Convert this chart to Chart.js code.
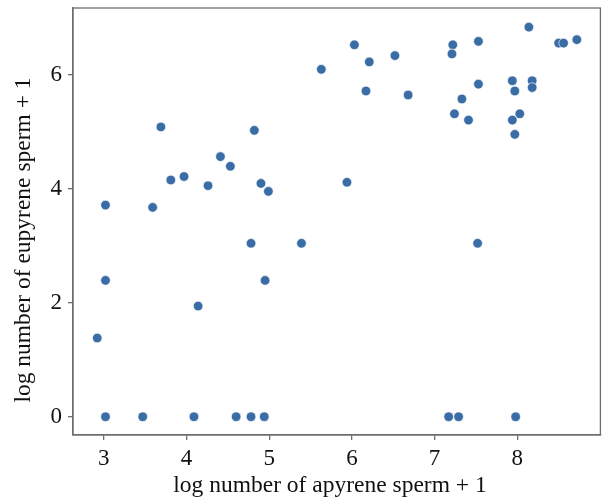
<!DOCTYPE html>
<html>
<head>
<meta charset="utf-8">
<script src="https://cdn.jsdelivr.net/npm/chart.js@4"></script>
<style>
html,body{margin:0;padding:0;background:#fff;}
#wrap{width:606px;height:499px;}
</style>
</head>
<body>
<div id="wrap"><canvas id="c" width="606" height="499"></canvas></div>
<script>
const apyrene = [6.03,5.63,3.69,4.82,4.41,4.53,3.81,3.97,4.26,4.90,4.99,5.94,3.02,3.59,4.78,5.39,
  6.21,6.17,6.52,6.68,7.22,7.21,7.53,7.53,7.33,7.24,7.41,7.94,7.97,8.18,8.18,8.03,7.94,7.97,8.14,8.50,8.56,8.72,7.52,
  3.02,4.95,4.14,2.92,3.02,3.47,4.09,4.60,4.78,4.94,7.17,7.29,7.98];
const eupyrene = [6.52,6.09,5.08,5.02,4.56,4.39,4.15,4.21,4.05,4.09,3.95,4.11,3.71,3.67,3.04,3.04,
  6.22,5.71,6.33,5.64,6.52,6.36,6.58,5.83,5.57,5.31,5.20,5.89,5.71,5.89,5.77,5.31,5.20,4.95,6.83,6.55,6.55,6.61,3.04,
  2.39,2.39,1.94,1.38,0,0,0,0,0,0,0,0,0];
const xTicks = [3,4,5,6,7,8];
const yTicks = [0,2,4,6];
const xLabel = 'log number of apyrene sperm + 1';
const yLabel = 'log number of eupyrene sperm + 1';

const points = apyrene.map((x,i)=>({x:x,y:eupyrene[i]}));
const fam = '"Liberation Serif", "DejaVu Serif", serif';
const frame = {
  id:'frame',
  afterDraw(chart){
    const a = chart.chartArea, ctx = chart.ctx;
    ctx.save();
    ctx.strokeStyle = '#6e6e6e';
    ctx.lineWidth = 1.3;
    ctx.strokeRect(a.left, a.top, a.right-a.left, a.bottom-a.top);
    // axis titles
    ctx.fillStyle = '#111';
    ctx.font = '23.5px ' + fam;
    ctx.textAlign = 'center';
    ctx.textBaseline = 'alphabetic';
    ctx.fillText(xLabel, 330, 491.5);
    ctx.translate(30, 240);
    ctx.rotate(-Math.PI/2);
    ctx.fillText(yLabel, 0, 0);
    ctx.restore();
  }
};
const tickFont = {family:fam, size:23};
new Chart(document.getElementById('c'), {
  type:'scatter',
  data:{datasets:[{data:points, backgroundColor:'#3a6ca6', borderColor:'rgba(255,255,255,0.8)', borderWidth:0.8, pointRadius:4.8, pointHoverRadius:4.8}]},
  options:{
    responsive:false, animation:false,
    layout:{padding:{top:8,right:3,left:0,bottom:0}},
    plugins:{legend:{display:false}, tooltip:{enabled:false}},
    scales:{
      x:{type:'linear', min:2.627, max:9.005,
        afterBuildTicks(ax){ax.ticks = xTicks.map(v=>({value:v}));},
        afterFit(ax){ax.height = 64; ax.paddingLeft = 0; ax.paddingRight = 0;},
        grid:{display:true, drawOnChartArea:false, drawTicks:true, tickLength:5, color:'#6e6e6e', lineWidth:1.3},
        border:{display:true, color:'#6e6e6e', width:1.3},
        ticks:{color:'#111', font:tickFont, padding:5, maxRotation:0},
        title:{display:false}
      },
      y:{type:'linear', min:-0.32, max:7.165,
        afterBuildTicks(ax){ax.ticks = yTicks.map(v=>({value:v}));},
        afterFit(ax){ax.width = 73; ax.paddingTop = 0; ax.paddingBottom = 0;},
        grid:{display:true, drawOnChartArea:false, drawTicks:true, tickLength:5, color:'#6e6e6e', lineWidth:1.3},
        border:{display:true, color:'#6e6e6e', width:1.3},
        ticks:{color:'#111', font:tickFont, padding:6},
        title:{display:false}
      }
    }
  },
  plugins:[frame]
});
</script>
</body>
</html>
